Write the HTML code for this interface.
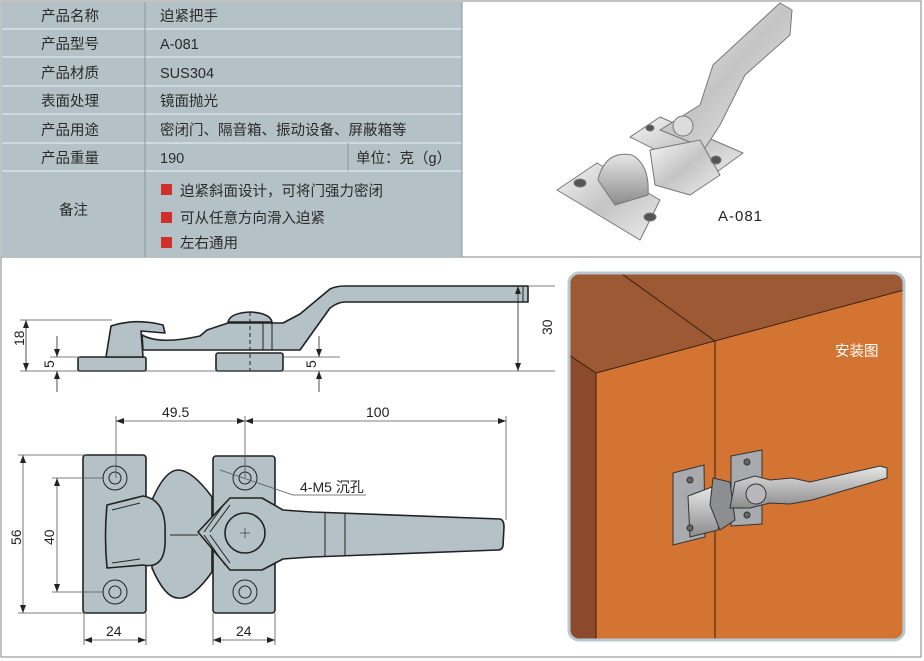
<!DOCTYPE html>
<html><head><meta charset="utf-8"><style>
body{margin:0;background:#fff;width:924px;height:661px;overflow:hidden;font-family:"Liberation Sans","Noto Sans CJK SC",sans-serif}
svg{position:absolute;left:0;top:0}
</style></head><body>
<svg width="924" height="661" viewBox="0 0 924 661" xmlns="http://www.w3.org/2000/svg" font-family="Liberation Sans, Noto Sans CJK SC, sans-serif">
<defs>
<linearGradient id="met" x1="0" y1="0" x2="1" y2="1"><stop offset="0" stop-color="#f6f6f6"/><stop offset=".5" stop-color="#c4c4c4"/><stop offset="1" stop-color="#ececec"/></linearGradient>
<linearGradient id="met2" x1="0" y1="0" x2="0" y2="1"><stop offset="0" stop-color="#e6e6e6"/><stop offset="1" stop-color="#8c8c8c"/></linearGradient>
<marker id="ar" markerWidth="8" markerHeight="6" refX="8" refY="3" orient="auto-start-reverse" markerUnits="userSpaceOnUse"><path d="M0,0 L8,3 L0,6 Z" fill="#222"/></marker>
</defs>
<rect x="1" y="1" width="920" height="656" fill="none" stroke="#9a9a9a" stroke-width="1.2"/>
<line x1="1" y1="257" x2="921" y2="257" stroke="#9a9a9a" stroke-width="1.2"/>
<rect x="2" y="2" width="460" height="255" fill="#b4c2c8"/>
<g stroke="#e2e8eb" stroke-width="1.3">
<line x1="2" y1="29" x2="462" y2="29"/><line x1="2" y1="57" x2="462" y2="57"/><line x1="2" y1="86" x2="462" y2="86"/><line x1="2" y1="114" x2="462" y2="114"/><line x1="2" y1="143" x2="462" y2="143"/><line x1="2" y1="171" x2="462" y2="171"/>
</g>
<g stroke="#8a969c" stroke-width="1">
<line x1="145" y1="2" x2="145" y2="257"/><line x1="348" y1="143" x2="348" y2="171"/><line x1="462" y1="2" x2="462" y2="257"/>
</g>
<g font-size="14.5" fill="#2a2a2a">
<text x="41" y="21">产品名称</text><text x="41" y="49">产品型号</text><text x="41" y="78">产品材质</text><text x="41" y="106">表面处理</text><text x="41" y="135">产品用途</text><text x="41" y="163">产品重量</text><text x="59" y="215">备注</text>
<text x="160" y="21">迫紧把手</text><text x="160" y="49">A-081</text><text x="160" y="78">SUS304</text><text x="160" y="106">镜面抛光</text><text x="160" y="135">密闭门、隔音箱、振动设备、屏蔽箱等</text><text x="160" y="163">190</text><text x="356" y="163">单位：克（g）</text>
<text x="180" y="196">迫紧斜面设计，可将门强力密闭</text><text x="180" y="223">可从任意方向滑入迫紧</text><text x="180" y="248">左右通用</text>
</g>
<g fill="#d0302a"><rect x="161" y="184" width="11" height="11"/><rect x="161" y="212" width="11" height="11"/><rect x="161" y="237" width="11" height="11"/></g>
<!-- product photo -->
<g stroke="#777" stroke-width="1" stroke-linejoin="round">
<path d="M557,190 L597,163 L660,200 L640,240 Z" fill="url(#met)"/>
<path d="M630,137 L660,117 L743,153 L710,177 Z" fill="url(#met)"/>
<path d="M660,130 L700,105 L713,65 L780,3 L792,10 L790,35 L745,75 L720,125 L705,148 Z" fill="url(#met)"/>
<path d="M650,150 L700,140 L720,175 L690,195 L655,185 Z" fill="url(#met)"/>
<path d="M598,180 Q605,150 632,155 Q650,165 648,195 L615,205 Z" fill="url(#met2)"/>
<circle cx="683" cy="126" r="10" fill="#dcdcdc"/>
<ellipse cx="580" cy="183" rx="6" ry="4" fill="#555"/><ellipse cx="650" cy="217" rx="6" ry="4" fill="#555"/><ellipse cx="716" cy="160" rx="5" ry="4" fill="#555"/><ellipse cx="650" cy="128" rx="4" ry="3" fill="#555"/>
</g>
<text x="718" y="221" font-size="15" fill="#222" letter-spacing="1">A-081</text>
<!-- side view -->
<g fill="#b4c2c8" stroke="#222" stroke-width="1.6" stroke-linejoin="round">
<rect x="78" y="357" width="68" height="14" rx="2"/>
<rect x="216" y="353" width="67" height="18" rx="2"/>
<path d="M106,357 L111,326 Q135,318 163,325 L165,333 L141,331 L143,357 Z"/>
<path d="M142,335 Q160,345 200,336 L207,330 L228,323 L283,323 L300,314 L330,289 Q336,286 345,286 L528,286 L528,302 L345,302 Q338,302 330,308 L300,350 L143,350 Z"/>
<path d="M228,322 Q230,313 250,312 Q270,313 272,322 Z"/>
</g>
<g stroke="#222" stroke-width="1" fill="none">
<line x1="250" y1="312" x2="250" y2="371" stroke-dasharray="4,3"/>
<line x1="272" y1="323" x2="272" y2="350"/><line x1="263" y1="323" x2="263" y2="350"/><line x1="523" y1="286" x2="523" y2="302"/>
<line x1="20" y1="320" x2="112" y2="320" stroke="#555" stroke-width=".8"/>
<line x1="20" y1="371" x2="555" y2="371" stroke="#555" stroke-width=".8"/>
<line x1="50" y1="357" x2="80" y2="357" stroke="#555" stroke-width=".8"/>
<line x1="283" y1="357" x2="340" y2="357" stroke="#555" stroke-width=".8"/>
<line x1="528" y1="286" x2="555" y2="286" stroke="#555" stroke-width=".8"/>
<line x1="26" y1="320" x2="26" y2="371" marker-start="url(#ar)" marker-end="url(#ar)" stroke-width=".8"/>
<line x1="57" y1="336" x2="57" y2="357" marker-end="url(#ar)" stroke-width=".8"/><line x1="57" y1="392" x2="57" y2="371" marker-end="url(#ar)" stroke-width=".8"/>
<line x1="319" y1="336" x2="319" y2="357" marker-end="url(#ar)" stroke-width=".8"/><line x1="319" y1="392" x2="319" y2="371" marker-end="url(#ar)" stroke-width=".8"/>
<line x1="518" y1="286" x2="518" y2="371" marker-start="url(#ar)" marker-end="url(#ar)" stroke-width=".8"/>
</g>
<g font-size="14" fill="#222">
<text transform="translate(24,346) rotate(-90)">18</text>
<text transform="translate(54,368) rotate(-90)">5</text>
<text transform="translate(316,368) rotate(-90)">5</text>
<text transform="translate(552,335) rotate(-90)">30</text>
</g>
<!-- top view -->
<g fill="#b4c2c8" stroke="#222" stroke-width="1.6" stroke-linejoin="round">
<rect x="83" y="455" width="63" height="158" rx="3"/>
<rect x="213" y="456" width="62" height="157" rx="3"/>
<path d="M152,500 Q165,470 178,470 Q192,470 212,497 L212,572 Q192,600 178,598 Q165,598 152,568 Z"/>
<path d="M107,505 L143,496 Q167,500 165,535 Q167,570 143,565 L107,568 Q104,536 107,505 Z"/>
<path d="M198,532 L230,498 L262,498 L283,510 Q296,511 312,512 L500,519 Q504,520 504,527 L503,546 Q502,550 498,550 L312,557 Q296,558 283,559 L262,570 L230,570 Z"/>
<circle cx="245" cy="533" r="20"/>
</g>
<g fill="none" stroke="#222" stroke-width="1">
<line x1="170" y1="535" x2="198" y2="535"/>
<line x1="325" y1="512" x2="325" y2="557"/><line x1="345" y1="513" x2="345" y2="556"/>
<path d="M210,532 L230,505 M204,532 L225,503 M210,535 L230,563 M204,535 L225,565"/>
<path d="M112,510 L140,503 M112,563 L140,559"/>
<circle cx="115" cy="478" r="12"/><circle cx="115" cy="478" r="6"/>
<circle cx="115" cy="592" r="12"/><circle cx="115" cy="592" r="6"/>
<circle cx="245" cy="478" r="12"/><circle cx="245" cy="478" r="6"/>
<circle cx="245" cy="592" r="12"/><circle cx="245" cy="592" r="6"/>
<g stroke-width=".6"><line x1="240" y1="533" x2="250" y2="533"/><line x1="245" y1="528" x2="245" y2="538"/></g>
<g stroke="#555" stroke-width=".8">
<line x1="116" y1="416" x2="116" y2="478"/><line x1="245" y1="416" x2="245" y2="478"/><line x1="506" y1="416" x2="506" y2="520"/>
<line x1="116" y1="421" x2="245" y2="421" marker-start="url(#ar)" marker-end="url(#ar)"/>
<line x1="245" y1="421" x2="506" y2="421" marker-start="url(#ar)" marker-end="url(#ar)"/>
<line x1="18" y1="455" x2="86" y2="455"/><line x1="18" y1="613" x2="86" y2="613"/>
<line x1="23" y1="455" x2="23" y2="613" marker-start="url(#ar)" marker-end="url(#ar)"/>
<line x1="52" y1="478" x2="104" y2="478"/><line x1="52" y1="592" x2="104" y2="592"/>
<line x1="57" y1="478" x2="57" y2="592" marker-start="url(#ar)" marker-end="url(#ar)"/>
<line x1="84" y1="613" x2="84" y2="645"/><line x1="146" y1="613" x2="146" y2="645"/><line x1="213" y1="613" x2="213" y2="645"/><line x1="275" y1="613" x2="275" y2="645"/>
<line x1="84" y1="640" x2="146" y2="640" marker-start="url(#ar)" marker-end="url(#ar)"/>
<line x1="213" y1="640" x2="275" y2="640" marker-start="url(#ar)" marker-end="url(#ar)"/>
<polyline points="220,470 293,495 366,495"/>
</g>
</g>
<g font-size="14" fill="#222">
<text x="162" y="417">49.5</text><text x="366" y="417">100</text>
<text transform="translate(21,545) rotate(-90)">56</text>
<text transform="translate(54,545) rotate(-90)">40</text>
<text x="106" y="636">24</text><text x="236" y="636">24</text>
<text x="300" y="492">4-M5 沉孔</text>
</g>
<!-- install image -->
<clipPath id="cp"><rect x="569" y="273" width="335" height="367" rx="10"/></clipPath>
<g clip-path="url(#cp)">
<rect x="569" y="273" width="335" height="367" fill="#d37432"/>
<polygon points="569,273 904,273 904,290 715,341 596,373 569,355" fill="#9c5934"/>
<polygon points="569,355 596,373 596,640 569,640" fill="#8a4a2b"/>
<g stroke="#3a2010" stroke-width="1" fill="none">
<line x1="622" y1="274" x2="715" y2="341"/><line x1="596" y1="373" x2="904" y2="290"/><line x1="569" y1="355" x2="596" y2="373"/><line x1="596" y1="373" x2="596" y2="640"/><line x1="715" y1="341" x2="715" y2="640"/>
</g>
<g stroke="#333" stroke-width="1">
<polygon points="673,473 704,465 705,537 673,545" fill="#a8aaae"/>
<polygon points="731,456 762,450 762,524 731,526" fill="#a8aaae"/>
<polygon points="688,496 712,487 722,505 718,530 690,537" fill="url(#met2)"/>
<polygon points="713,478 730,482 735,520 720,530 710,505" fill="#8c8e92"/>
<polygon points="735,482 755,476 770,480 792,478 810,482 880,466 887,468 887,478 812,500 790,504 770,503 750,508 730,508" fill="url(#met2)"/>
<circle cx="756" cy="494" r="10" fill="#b8b8bc"/>
<ellipse cx="690" cy="480" rx="3" ry="3" fill="#666"/><ellipse cx="690" cy="528" rx="3" ry="3" fill="#666"/><ellipse cx="747" cy="462" rx="3" ry="3" fill="#666"/><ellipse cx="747" cy="515" rx="3" ry="3" fill="#666"/>
</g>
<text x="835" y="356" font-size="14.5" fill="#fff">安装图</text>
</g>
<rect x="569" y="273" width="335" height="367" rx="10" fill="none" stroke="#b7c8d0" stroke-width="3"/>
</svg>
</body></html>
